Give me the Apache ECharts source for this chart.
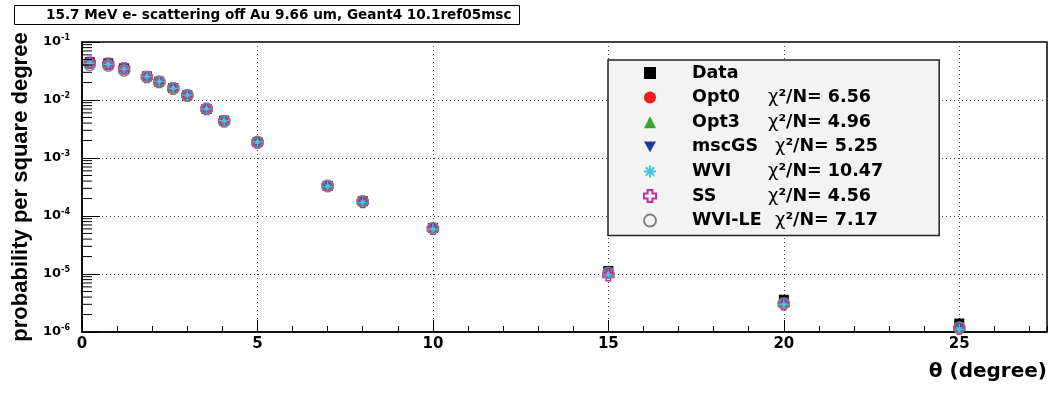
<!DOCTYPE html>
<html><head><meta charset="utf-8">
<script src="https://cdn.jsdelivr.net/npm/echarts@6/dist/echarts.min.js"></script>
<style>html,body{margin:0;padding:0;background:#fff}#c{width:1057px;height:404px}</style>
</head><body><div id="c"></div>
<script>
// ---- data ----
const titleText = '15.7 MeV e- scattering off Au 9.66 um, Geant4 10.1ref05msc';
const xTitle = 'θ (degree)';
const yTitle = 'probability per square degree';
const theta  = [0.22, 0.75, 1.2, 1.85, 2.2, 2.6, 3.0, 3.55, 4.05, 5.0, 7.0, 8.0, 10.0, 15.0, 20.0, 25.0];
const dataV  = [4.4e-2, 4.2e-2, 3.5e-2, 2.55e-2, 2.07e-2, 1.6e-2, 1.2e-2, 7.0e-3, 4.4e-3, 1.87e-3, 3.3e-4, 1.8e-4, 6.2e-5, 1.13e-5, 3.6e-6, 1.4e-6];
const opt0V  = [4.5e-2, 4.25e-2, 3.45e-2, 2.5e-2, 2.05e-2, 1.6e-2, 1.2e-2, 7.1e-3, 4.3e-3, 1.85e-3, 3.3e-4, 1.75e-4, 6.1e-5, 1.02e-5, 3.2e-6, 1.2e-6];
const opt3V  = [4.4e-2, 4.2e-2, 3.4e-2, 2.5e-2, 2.05e-2, 1.58e-2, 1.19e-2, 7.0e-3, 4.3e-3, 1.85e-3, 3.35e-4, 1.78e-4, 6.2e-5, 1.1e-5, 3.3e-6, 1.25e-6];
const gsV    = [4.5e-2, 4.3e-2, 3.5e-2, 2.5e-2, 2.05e-2, 1.6e-2, 1.2e-2, 7.0e-3, 4.3e-3, 1.8e-3, 3.3e-4, 1.75e-4, 6.0e-5, 1.05e-5, 3.2e-6, 1.2e-6];
const wviV   = [4.3e-2, 4.1e-2, 3.4e-2, 2.55e-2, 2.1e-2, 1.6e-2, 1.22e-2, 7.1e-3, 4.4e-3, 1.9e-3, 3.2e-4, 1.7e-4, 5.9e-5, 1.0e-5, 3.0e-6, 1.1e-6];
const ssV    = [4.4e-2, 4.2e-2, 3.5e-2, 2.5e-2, 2.05e-2, 1.58e-2, 1.2e-2, 7.0e-3, 4.3e-3, 1.85e-3, 3.3e-4, 1.75e-4, 6.0e-5, 9.5e-6, 3.0e-6, 1.15e-6];
const wvileV = [4.0e-2, 3.9e-2, 3.2e-2, 2.5e-2, 2.05e-2, 1.6e-2, 1.2e-2, 7.1e-3, 4.3e-3, 1.9e-3, 3.3e-4, 1.8e-4, 6.2e-5, 1.05e-5, 3.1e-6, 1.2e-6];
const names  = ['Data', 'Opt0', 'Opt3', 'mscGS', 'WVI', 'SS', 'WVI-LE'];
const chi2   = ['', '6.56', '4.96', '5.25', '10.47', '4.56', '7.17'];
const xTickLabels = [0, 5, 10, 15, 20, 25];

// ---- styling ----
const FONT = 'DejaVu Sans';
const seriesVals = [dataV, opt0V, opt3V, gsV, wviV, ssV, wvileV];
const styles = [
  {symbol: 'rect', size: 10, item: {color: '#000', opacity: 1}},
  {symbol: 'circle', size: 10, item: {color: '#ee1c1c', opacity: 1}},
  {symbol: 'triangle', size: 9, item: {color: '#36a836', opacity: 1}},
  {symbol: 'path://M0,0 L10,0 L5,9 Z', size: 10, item: {color: '#1a3c9c', opacity: 1}},
  {symbol: 'path://M5,0 L5,10 M0,5 L10,5 M1.5,1.5 L8.5,8.5 M1.5,8.5 L8.5,1.5', size: 11,
   item: {color: 'rgba(0,0,0,0)', borderColor: '#45c4e2', borderWidth: 1.5, opacity: 1}},
  {symbol: 'path://M3,0 L7,0 L7,3 L10,3 L10,7 L7,7 L7,10 L3,10 L3,7 L0,7 L0,3 L3,3 Z', size: 11,
   item: {color: 'rgba(0,0,0,0)', borderColor: '#c0309a', borderWidth: 1.5, opacity: 1}},
  {symbol: 'circle', size: 11, item: {color: 'rgba(0,0,0,0)', borderColor: '#808080', borderWidth: 1.5, opacity: 1}}
];

const scatterSeries = names.map((n, i) => ({
  name: n, type: 'scatter', xAxisIndex: 0, yAxisIndex: 0,
  symbol: styles[i].symbol, symbolSize: styles[i].size,
  itemStyle: styles[i].item, z: 3 + i,
  data: theta.map((t, j) => [t, seriesVals[i][j]])
}));

// minor log ticks on the y axis (decoration only)
const minorTicks = [];
for (let e = -6; e < -1; e++) for (let k = 2; k <= 9; k++) minorTicks.push([0, k * Math.pow(10, e)]);
const minorTickSeries = {
  type: 'custom', xAxisIndex: 0, yAxisIndex: 0, silent: true, z: 20,
  data: minorTicks, encode: {x: 0, y: 1},
  renderItem: (params, api) => {
    const p = api.coord([0, api.value(1)]);
    return {type: 'line', shape: {x1: p[0], y1: p[1], x2: p[0] + 10, y2: p[1]},
            style: {stroke: '#000', lineWidth: 1}};
  }
};

const legendRich = {
  sp: {width: 31},
  n: {width: 76, fontFamily: FONT, fontWeight: 'bold', fontSize: 17.5, lineHeight: 20, color: '#000'},
  n2: {width: 83, fontFamily: FONT, fontWeight: 'bold', fontSize: 17.5, lineHeight: 20, color: '#000'},
  x: {fontFamily: FONT, fontWeight: 'normal', fontSize: 18, lineHeight: 20, color: '#000'},
  c: {fontFamily: FONT, fontWeight: 'bold', fontSize: 17.5, lineHeight: 20, color: '#000'}
};

const chart = echarts.init(document.getElementById('c'), null, {renderer: 'canvas'});
chart.setOption({
  animation: false,
  backgroundColor: '#fff',
  title: {
    text: titleText, left: 14, top: 5,
    padding: [3, 8, 3, 32], borderColor: '#000', borderWidth: 1,
    textStyle: {fontFamily: FONT, fontWeight: 'bold', fontSize: 13.6, lineHeight: 14, color: '#000'}
  },
  grid: {left: 82, right: 10, top: 42, bottom: 72, show: true, borderColor: '#000', borderWidth: 1.5, backgroundColor: 'transparent'},
  legend: {
    orient: 'vertical', left: 608, top: 60,
    padding: [4, 56, 6, 35], itemGap: 6.6, itemWidth: 12, itemHeight: 12,
    backgroundColor: '#f2f3f2', borderColor: '#222', borderWidth: 1.5,
    data: names,
    formatter: (name) => {
      const i = names.indexOf(name);
      const nk = (name === 'mscGS' || name === 'WVI-LE') ? 'n2' : 'n';
      if (!chi2[i]) return '{sp|}{' + nk + '|' + name + '}';
      return '{sp|}{' + nk + '|' + name + '}{x|χ}{c|²/N= ' + chi2[i] + '}';
    },
    textStyle: {rich: legendRich}
  },
  xAxis: [
    {
      type: 'value', min: 0, max: 27.5, interval: 5, position: 'bottom',
      axisLine: {lineStyle: {color: '#000', width: 1.5}},
      axisTick: {inside: true, length: 12, lineStyle: {color: '#000', width: 1}},
      axisLabel: {showMaxLabel: false, margin: 5, color: '#000', fontFamily: FONT, fontWeight: 'bold', fontSize: 15,
                  formatter: (v) => xTickLabels.indexOf(v) >= 0 ? String(v) : ''},
      splitLine: {show: true, lineStyle: {type: [1, 3], color: '#444', width: 1}},
      name: xTitle, nameLocation: 'end', nameGap: 0,
      nameTextStyle: {align: 'right', verticalAlign: 'top', padding: [30, 0, 0, 0],
                      fontFamily: FONT, fontWeight: 'bold', fontSize: 20, color: '#000'}
    },
    {
      type: 'value', min: 0, max: 27.5, interval: 1, position: 'bottom',
      axisLine: {show: false},
      axisTick: {inside: true, length: 6, lineStyle: {color: '#000', width: 1}},
      axisLabel: {show: false}, splitLine: {show: false}
    }
  ],
  yAxis: {
    type: 'log', logBase: 10, min: 1e-6, max: 0.1,
    axisLine: {lineStyle: {color: '#000', width: 1.5}},
    axisTick: {inside: true, length: 18, lineStyle: {color: '#000', width: 1}},
    axisLabel: {
      margin: 12, color: '#000',
      formatter: (v) => '{b|10}{s|' + Math.round(Math.log10(v)) + '}',
      rich: {
        b: {fontFamily: FONT, fontWeight: 'bold', fontSize: 13, color: '#000'},
        s: {fontFamily: FONT, fontWeight: 'bold', fontSize: 8, color: '#000', verticalAlign: 'top', padding: [0, 0, 8, 0]}
      }
    },
    splitLine: {show: true, lineStyle: {type: [1, 3], color: '#444', width: 1}},
    name: yTitle, nameLocation: 'middle', nameGap: 50, nameRotate: 90,
    nameTextStyle: {fontFamily: 'Liberation Sans', fontWeight: 'bold', fontSize: 22, color: '#000'}
  },
  series: scatterSeries.concat([minorTickSeries])
});
</script></body></html>
